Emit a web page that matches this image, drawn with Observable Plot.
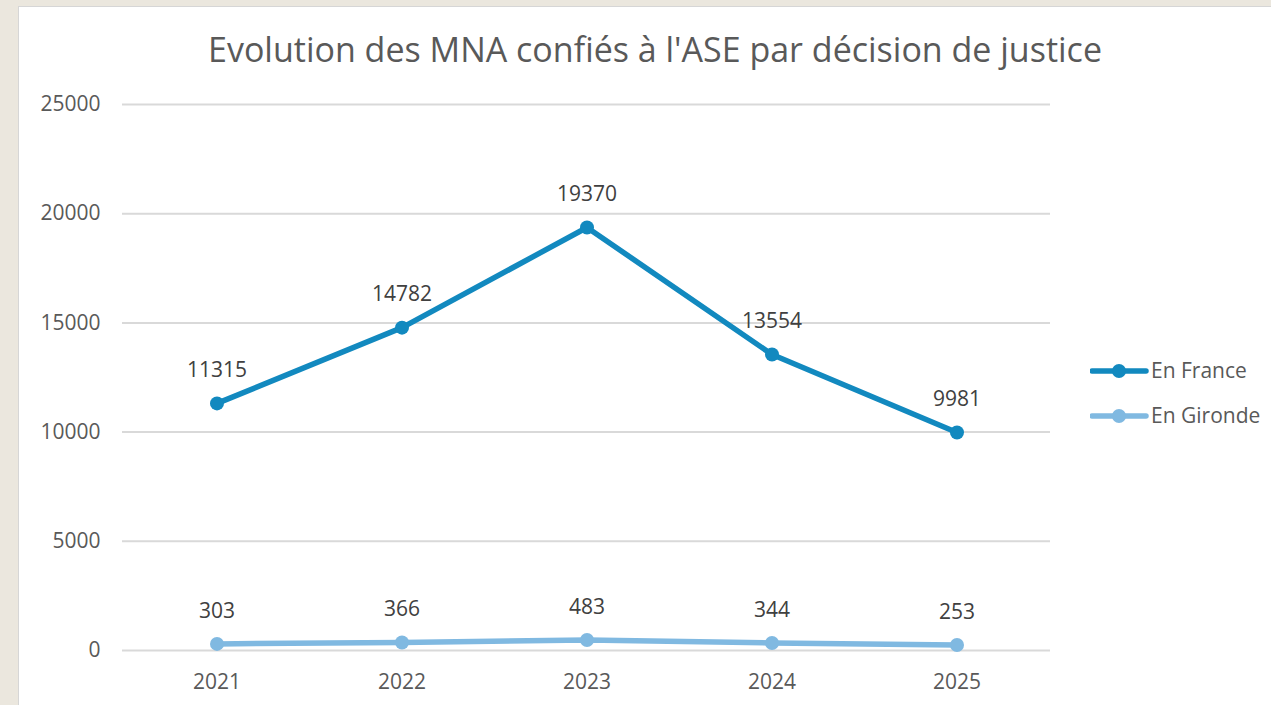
<!DOCTYPE html>
<html><head><meta charset="utf-8">
<script src="https://cdn.jsdelivr.net/npm/d3@7"></script>
<script src="https://cdn.jsdelivr.net/npm/@observablehq/plot@0.6"></script>
<style>
html,body{margin:0;padding:0;width:1271px;height:705px;overflow:hidden;background:#ebe7de;font-family:"Open Sans",sans-serif;}
#panel{position:absolute;left:18px;top:6px;width:1253px;height:699px;background:#fff;border-left:1px solid #d6d6d6;border-top:1px solid #d6d6d6;box-sizing:border-box;}
#title{position:absolute;left:0;top:26px;width:1310px;text-align:center;font-size:34px;color:#595959;white-space:nowrap;}
#chart{position:absolute;left:0;top:0;}
#legend{position:absolute;left:1090px;top:356px;color:#595959;font-size:21px;white-space:nowrap;}
.li{position:relative;height:45px;}
.li svg{position:absolute;left:0;top:5px;}
.li span{position:absolute;left:61px;top:0;}
</style></head>
<body>
<div id="panel"></div>
<div id="title">Evolution des MNA confiés à l'ASE par décision de justice</div>
<div id="chart"></div>
<div id="legend"></div>
<script>
const years = ["2021","2022","2023","2024","2025"];
const seriesNames = ["En France","En Gironde"];
const france = [11315,14782,19370,13554,9981];
const gironde = [303,366,483,344,253];
const yTicks = [0,5000,10000,15000,20000,25000];
const colors = ["#1289bf","#80b9e1"];

const data = [];
years.forEach((y,i)=>{
  data.push({year:y, series:seriesNames[0], value:france[i]});
  data.push({year:y, series:seriesNames[1], value:gironde[i]});
});

const chart = Plot.plot({
  width:1271, height:705,
  marginLeft:122, marginRight:221, marginTop:104, marginBottom:55,
  style:{fontFamily:"'Open Sans', sans-serif", fontSize:"21px", color:"#595959", background:"transparent", overflow:"visible"},
  x:{type:"band", domain:years, padding:0, label:null},
  y:{domain:[0,25000], ticks:yTicks, label:null},
  color:{domain:seriesNames, range:colors},
  marks:[
    Plot.gridY(yTicks,{stroke:"#d9d9d9", strokeOpacity:1, strokeWidth:2}),
    Plot.axisY(yTicks,{tickSize:0, tickPadding:22, tickFormat:d=>String(d), fill:"#595959", fontSize:21}),
    Plot.axisX({tickSize:0, tickPadding:24, fill:"#595959", fontSize:21}),
    Plot.line(data,{x:"year", y:"value", z:"series", stroke:"series", strokeWidth:5.5, curve:"linear"}),
    Plot.dot(data,{x:"year", y:"value", fill:"series", r:7, stroke:null}),
    Plot.text(data,{x:"year", y:"value", text:d=>String(d.value), dy:-33, fill:"#404040", fontSize:21})
  ]
});
document.getElementById("chart").appendChild(chart);

const leg = document.getElementById("legend");
seriesNames.forEach((s,i)=>{
  const div = document.createElement("div");
  div.className="li";
  div.innerHTML = `<svg width="60" height="20"><line x1="2" y1="10" x2="56" y2="10" stroke="${colors[i]}" stroke-width="5.5" stroke-linecap="round"/><circle cx="29" cy="10" r="7" fill="${colors[i]}"/></svg><span>${s}</span>`;
  leg.appendChild(div);
});
</script>
</body></html>
